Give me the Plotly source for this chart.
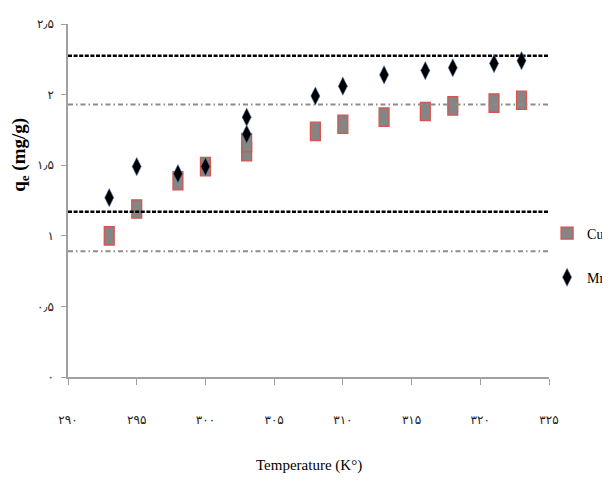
import numpy as np
import plotly.graph_objects as go

# Data
temp_cu = [293, 295, 298, 300, 303, 303, 308, 310, 313, 316, 318, 321, 323]
qe_cu = [1.00, 1.19, 1.39, 1.49, 1.595, 1.66, 1.74, 1.79, 1.84, 1.88, 1.92, 1.94, 1.96]
temp_mn = [293, 295, 298, 300, 303, 303, 308, 310, 313, 316, 318, 321, 323]
qe_mn = [1.27, 1.49, 1.44, 1.49, 1.84, 1.72, 1.99, 2.06, 2.14, 2.17, 2.19, 2.22, 2.24]

ref_black = [2.275, 1.17]
ref_gray = [1.93, 0.89]
line_x = [290, 325]

x_ticks = [290, 295, 300, 305, 310, 315, 320, 325]
x_ticktext = ["۲۹۰", "۲۹۵", "۳۰۰", "۳۰۵", "۳۱۰", "۳۱۵", "۳۲۰", "۳۲۵"]
y_ticks = [0, 0.5, 1, 1.5, 2, 2.5]
y_ticktext = ["۰", "۰٫۵", "۱", "۱٫۵", "۲", "۲٫۵"]

box_h = 0.13
box_w = 0.72

fig = go.Figure()

for v in ref_black:
    fig.add_trace(go.Scatter(x=line_x, y=[v, v], mode="lines", showlegend=False,
                             hoverinfo="skip",
                             line=dict(color="black", width=2.5, dash="4px,1.6px")))
for v in ref_gray:
    fig.add_trace(go.Scatter(x=line_x, y=[v, v], mode="lines", showlegend=False,
                             hoverinfo="skip",
                             line=dict(color="#8c8c8c", width=2, dash="5px,3px,1.5px,3px")))

fig.add_trace(go.Bar(
    x=temp_cu, y=[box_h] * len(qe_cu), base=np.array(qe_cu) - box_h / 2,
    width=box_w, name="Cu", legendgroup="cu",
    marker=dict(color="#858585", line=dict(color="#d9534f", width=1.3)),
))
fig.add_trace(go.Scatter(
    x=temp_mn, y=qe_mn, mode="markers", name="Mn", legendgroup="mn",
    marker=dict(symbol="diamond-tall", size=13, color="black",
                line=dict(color="rgba(79,129,189,0.7)", width=0.8)),
))

fig.update_layout(
    width=602, height=473,
    margin=dict(l=60, r=61, t=16, b=104, autoexpand=False),
    paper_bgcolor="white", plot_bgcolor="white",
    barmode="overlay",
    font=dict(family="Liberation Serif, serif", color="black"),
    showlegend=True,
    legend=dict(x=0.996, xanchor="left", y=0.452, yanchor="top",
                tracegroupgap=23, font=dict(size=14, family="Liberation Serif"),
                bgcolor="rgba(0,0,0,0)"),
    xaxis=dict(range=[290, 325], tickvals=x_ticks, ticktext=x_ticktext,
               showgrid=False, zeroline=False, showline=True, automargin=False,
               linecolor="#a0a0a0", linewidth=1.5,
               ticks="outside", ticklen=6, tickcolor="#a0a0a0",
               ticklabelstandoff=25,
               tickfont=dict(family="DejaVu Sans", size=12, color="#222")),
    yaxis=dict(range=[0, 2.5], tickvals=y_ticks, ticktext=y_ticktext,
               showgrid=False, zeroline=False, showline=True, automargin=False,
               linecolor="#a0a0a0", linewidth=1.5,
               ticks="outside", ticklen=5, tickcolor="#a0a0a0",
               ticklabelstandoff=5,
               tickfont=dict(family="DejaVu Sans", size=12, color="#222")),
    annotations=[
        dict(text="Temperature (K°)", xref="paper", yref="paper", x=0.5, y=-0.252,
             xanchor="center", yanchor="middle", showarrow=False,
             font=dict(size=15, family="Liberation Serif")),
        dict(text="<b>q<sub>e</sub> (mg/g)</b>", xref="paper", yref="paper",
             x=-0.1, y=0.629, xanchor="center", yanchor="middle", textangle=-90,
             showarrow=False, font=dict(size=19, family="Liberation Serif")),
    ],
)

fig.write_html("out.html")
